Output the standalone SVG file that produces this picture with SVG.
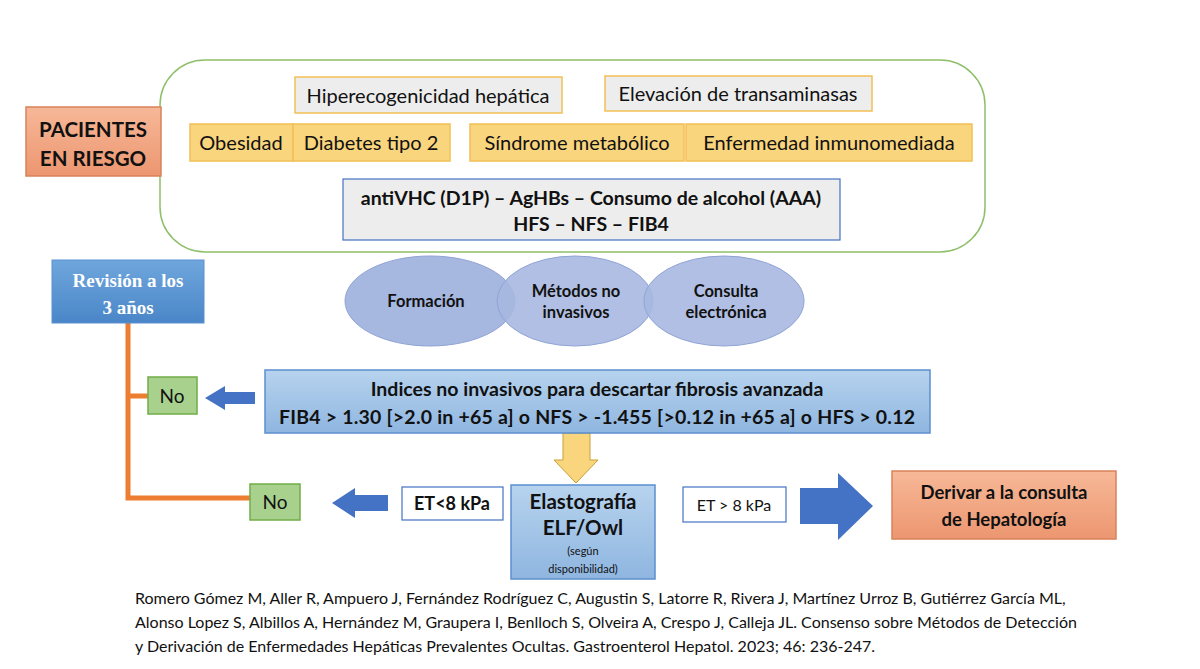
<svg xmlns="http://www.w3.org/2000/svg" width="1200" height="669" viewBox="0 0 1200 669">
<defs>
<linearGradient id="blueG" x1="0" y1="0" x2="0" y2="1"><stop offset="0" stop-color="#b7d3ee"/><stop offset="1" stop-color="#8fb6e0"/></linearGradient>
<linearGradient id="revG" x1="0" y1="0" x2="0" y2="1"><stop offset="0" stop-color="#6fa6dc"/><stop offset="1" stop-color="#4a86c8"/></linearGradient>
<linearGradient id="salG" x1="0" y1="0" x2="0" y2="1"><stop offset="0" stop-color="#f7b898"/><stop offset="1" stop-color="#ec9670"/></linearGradient>
<style>
text{font-family:Lato,"Open Sans","Liberation Sans",sans-serif;fill:#111}
.b{font-weight:bold}
.tag{fill:#f9d57e;stroke:#f2c055;stroke-width:1.5}
.gray{fill:#ededed;stroke:#f2c055;stroke-width:1.5}
.ell{fill:#a7b8e0;stroke:#8fa3d6;stroke-width:1}
.green{fill:#a9d18e;stroke:#70ad47;stroke-width:1.5}
.white{fill:#fff;stroke:#4472c4;stroke-width:1.2}
.sal{fill:url(#salG);stroke:#d9825a;stroke-width:1.5}
.bl{fill:url(#blueG);stroke:#5b8fcf;stroke-width:1.5}
.arr{fill:#4472c4}
</style>
</defs>
<rect width="1200" height="669" fill="#fff"/>
<g id="connectors">
<path d="M128 323V498H250M128 396H148" fill="none" stroke="#ed7d31" stroke-width="5"/>
<polygon class="arr" points="205,398 225,386 225,392 255,392 255,404 225,404 225,410"/>
<polygon class="arr" points="332,503 355,488 355,495 388,495 388,511 355,511 355,518"/>
<polygon class="arr" points="873,506 838,473 838,488 800,488 800,524 838,524 838,540"/>
<polygon points="563,433 590,433 590,460 598,460 576,483 554,460 563,460" fill="#f9d57e" stroke="#c9a035" stroke-width="1"/>
</g>
<g id="container"><rect x="160" y="60" width="825" height="192" rx="45" fill="none" stroke="#8fbf6a" stroke-width="1.5"/></g>
<g id="pacientes"><rect class="sal" x="26" y="107" width="135" height="69"/>
<text class="b" x="93" y="137" text-anchor="middle" font-size="20.5">PACIENTES</text>
<text class="b" x="93" y="166" text-anchor="middle" font-size="20.5">EN RIESGO</text></g>
<g id="hiper"><rect class="gray" x="295" y="77" width="267" height="36"/><text x="428" y="103" text-anchor="middle" font-size="20">Hiperecogenicidad hepática</text></g>
<g id="elev"><rect class="gray" x="605" y="76" width="267" height="35"/><text x="738" y="101" text-anchor="middle" font-size="20">Elevación de transaminasas</text></g>
<g id="obes"><rect class="tag" x="190" y="124" width="103" height="37"/><text x="241" y="150" text-anchor="middle" font-size="20">Obesidad</text></g>
<g id="diab"><rect class="tag" x="293" y="124" width="157" height="37"/><text x="371" y="150" text-anchor="middle" font-size="20">Diabetes tipo 2</text></g>
<g id="sind"><rect class="tag" x="470" y="124" width="214" height="37"/><text x="577" y="150" text-anchor="middle" font-size="20">Síndrome metabólico</text></g>
<g id="enf"><rect class="tag" x="686" y="124" width="286" height="37"/><text x="829" y="150" text-anchor="middle" font-size="20">Enfermedad inmunomediada</text></g>
<g id="anti"><rect x="343" y="179" width="497" height="61" fill="#ededed" stroke="#4472c4" stroke-width="1.2"/>
<text class="b" x="591" y="205" text-anchor="middle" font-size="19.5">antiVHC (D1P) – AgHBs – Consumo de alcohol (AAA)</text>
<text class="b" x="591" y="231" text-anchor="middle" font-size="19.5">HFS – NFS – FIB4</text></g>
<g id="revision"><rect x="52" y="260" width="152" height="63" fill="url(#revG)" stroke="#5b8fcf"/>
<text x="128" y="287" text-anchor="middle" font-size="19" font-weight="bold" style="fill:#fff;font-family:'Liberation Serif',serif">Revisión a los</text>
<text x="128" y="314" text-anchor="middle" font-size="19" font-weight="bold" style="fill:#fff;font-family:'Liberation Serif',serif">3 años</text></g>
<g id="formacion"><ellipse class="ell" cx="430" cy="301" rx="85" ry="45"/><text class="b" x="426" y="307" text-anchor="middle" font-size="16.5">Formación</text></g>
<g id="metodos"><ellipse class="ell" cx="575" cy="301" rx="78" ry="45" fill-opacity="0.9"/><text class="b" x="576" y="297" text-anchor="middle" font-size="16.5">Métodos no</text><text class="b" x="576" y="318" text-anchor="middle" font-size="16.5">invasivos</text></g>
<g id="consulta"><ellipse class="ell" cx="724" cy="301" rx="80" ry="45" fill-opacity="0.9"/><text class="b" x="726" y="297" text-anchor="middle" font-size="16.5">Consulta</text><text class="b" x="726" y="318" text-anchor="middle" font-size="16.5">electrónica</text></g>
<g id="no1"><rect class="green" x="148" y="377" width="49" height="37"/><text x="172" y="403" text-anchor="middle" font-size="19">No</text></g>
<g id="indices"><rect class="bl" x="265" y="370" width="665" height="63"/>
<text class="b" x="597" y="396" text-anchor="middle" font-size="19.5">Indices no invasivos para descartar fibrosis avanzada</text>
<text class="b" x="597" y="424" text-anchor="middle" font-size="19.5" textLength="636">FIB4 &gt; 1.30 [&gt;2.0 in +65 a] o NFS &gt; -1.455 [&gt;0.12 in +65 a] o HFS &gt; 0.12</text></g>
<g id="no2"><rect class="green" x="250" y="484" width="50" height="36"/><text x="275" y="509" text-anchor="middle" font-size="19">No</text></g>
<g id="et1"><rect class="white" x="402" y="487" width="101" height="33"/><text class="b" x="452" y="510" text-anchor="middle" font-size="18">ET&lt;8 kPa</text></g>
<g id="elasto"><rect class="bl" x="511" y="485" width="144" height="94"/>
<text class="b" x="583" y="509" text-anchor="middle" font-size="20.5">Elastografía</text>
<text class="b" x="583" y="535" text-anchor="middle" font-size="20.5">ELF/Owl</text>
<text x="583" y="555" text-anchor="middle" font-size="11">(según</text>
<text x="583" y="573" text-anchor="middle" font-size="11">disponibilidad)</text></g>
<g id="et2"><rect class="white" x="683" y="487" width="103" height="35"/><text x="734" y="511" text-anchor="middle" font-size="16">ET &gt; 8 kPa</text></g>
<g id="derivar"><rect class="sal" x="892" y="471" width="224" height="68"/>
<text class="b" x="1004" y="499" text-anchor="middle" font-size="18.5">Derivar a la consulta</text>
<text class="b" x="1004" y="526" text-anchor="middle" font-size="18.5">de Hepatología</text></g>
<g id="cite">
<text x="135" y="604" style="font-size:16px">Romero Gómez M, Aller R, Ampuero J, Fernández Rodríguez C, Augustin S, Latorre R, Rivera J, Martínez Urroz B, Gutiérrez García ML,</text>
<text x="135" y="628" style="font-size:16px">Alonso Lopez S, Albillos A, Hernández M, Graupera I, Benlloch S, Olveira A, Crespo J, Calleja JL. Consenso sobre Métodos de Detección</text>
<text x="135" y="652" style="font-size:16px">y Derivación de Enfermedades Hepáticas Prevalentes Ocultas. Gastroenterol Hepatol. 2023; 46: 236-247.</text>
</g>
</svg>
